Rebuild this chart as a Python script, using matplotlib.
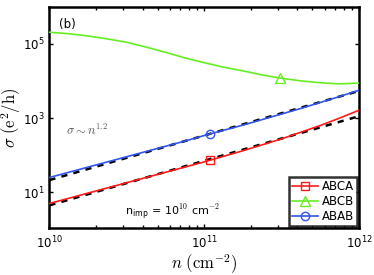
import numpy as np
import matplotlib
matplotlib.use("Agg")
import matplotlib.pyplot as plt
from matplotlib.ticker import LogLocator, NullFormatter, FixedLocator

plt.rcParams['mathtext.fontset'] = 'cm'
plt.rcParams['font.family'] = ['DejaVu Sans']

# data (log10 of density, log10 of conductivity)
log_n = [10.0, 10.125, 10.25, 10.375, 10.5, 10.625, 10.75, 10.875, 11.0,
         11.125, 11.25, 11.375, 11.5, 11.625, 11.75, 11.875, 12.0]
abca_log = [0.70, 0.84, 0.98, 1.12, 1.26, 1.40, 1.54, 1.68, 1.82,
            1.97, 2.12, 2.28, 2.44, 2.62, 2.80, 3.00, 3.21]
abcb_log = [5.31, 5.27, 5.21, 5.13, 5.04, 4.91, 4.77, 4.62, 4.49,
            4.37, 4.27, 4.16, 4.07, 4.00, 3.95, 3.92, 3.94]
abab_log = [1.40, 1.54, 1.68, 1.82, 1.96, 2.10, 2.24, 2.38, 2.53,
            2.67, 2.81, 2.96, 3.11, 3.26, 3.42, 3.58, 3.75]
# marker positions (log10 n, log10 sigma)
abca_mark = (11.04, 1.87)
abcb_mark = (11.49, 4.08)
abab_mark = (11.04, 2.57)
# power-law guides sigma ~ n^1.2
fit_n_log = [10.0, 12.0]
fit_abca_log = [0.65, 3.05]
fit_abab_log = [1.33, 3.73]
labels = ['ABCA', 'ABCB', 'ABAB']

n = 10 ** np.array(log_n)
fn = 10 ** np.array(fit_n_log)

fig = plt.figure(figsize=(3.74, 2.75), dpi=100)
ax = fig.add_axes([0.132, 0.171, 0.828, 0.802])
ax.set_xscale('log')
ax.set_yscale('log')

ax.plot(fn, 10 ** np.array(fit_abca_log), color='black', lw=1.8, ls=(0, (2.5, 2.5)), zorder=2)
ax.plot(fn, 10 ** np.array(fit_abab_log), color='black', lw=1.8, ls=(0, (2.5, 2.5)), zorder=2)

series = [(abca_log, abca_mark, '#ff1a1a', 's', 5.5),
          (abcb_log, abcb_mark, '#66ee22', '^', 6.5),
          (abab_log, abab_mark, '#3355ee', 'o', 6)]
for (vals, mk, col, m, ms), lab in zip(series, labels):
    ax.plot(n, 10 ** np.array(vals), color=col, lw=1.2, zorder=3)
    ax.plot([10 ** mk[0]], [10 ** mk[1]], ls='none', marker=m, mfc='none', mec=col,
            ms=ms, mew=1.0, zorder=4)
    ax.plot([], [], color=col, lw=1.2, marker=m, mfc='none', mec=col, ms=ms, mew=1.0,
            label=lab)

ax.set_xlim(1e10, 1e12)
ax.set_ylim(1.1, 9.5e5)

ax.yaxis.set_major_locator(FixedLocator([1e1, 1e3, 1e5]))
ax.yaxis.set_minor_locator(FixedLocator([]))
ax.xaxis.set_major_locator(FixedLocator([1e10, 1e11, 1e12]))
ax.xaxis.set_minor_locator(LogLocator(base=10, subs=np.arange(2, 10)))
ax.xaxis.set_minor_formatter(NullFormatter())

ax.tick_params(which='both', direction='in', top=True, right=True, labelsize=8.5, width=1.0)
ax.tick_params(which='major', length=3)
ax.tick_params(which='minor', length=2)
ax.tick_params(axis='x', pad=5)
for s in ax.spines.values():
    s.set_linewidth(1.8)

ax.set_xlabel(r'$n\ (\mathrm{cm}^{-2})$', fontsize=12, labelpad=1)
ax.set_ylabel(r'$\sigma\ (\mathrm{e}^2/\mathrm{h})$', fontsize=12, labelpad=0)

ax.text(0.03, 0.95, '(b)', transform=ax.transAxes, fontsize=8.5, va='top', ha='left')
ax.text(0.055, 0.44, r'$\sigma \sim n^{1.2}$', transform=ax.transAxes, fontsize=9,
        color='#555555', va='center', ha='left')
ax.text(0.245, 0.07, r'n$_\mathregular{imp}$ = 10$^{10}$ cm$^{-2}$', transform=ax.transAxes,
        fontsize=8, va='center', ha='left')

leg = ax.legend(loc='lower right', fontsize=8.5, frameon=True, fancybox=False,
                borderpad=0.25, labelspacing=0.15, handlelength=2.2, handletextpad=0.3,
                borderaxespad=0.2, edgecolor='black')
leg.get_frame().set_linewidth(1.8)

fig.savefig('out.png', dpi=100)
